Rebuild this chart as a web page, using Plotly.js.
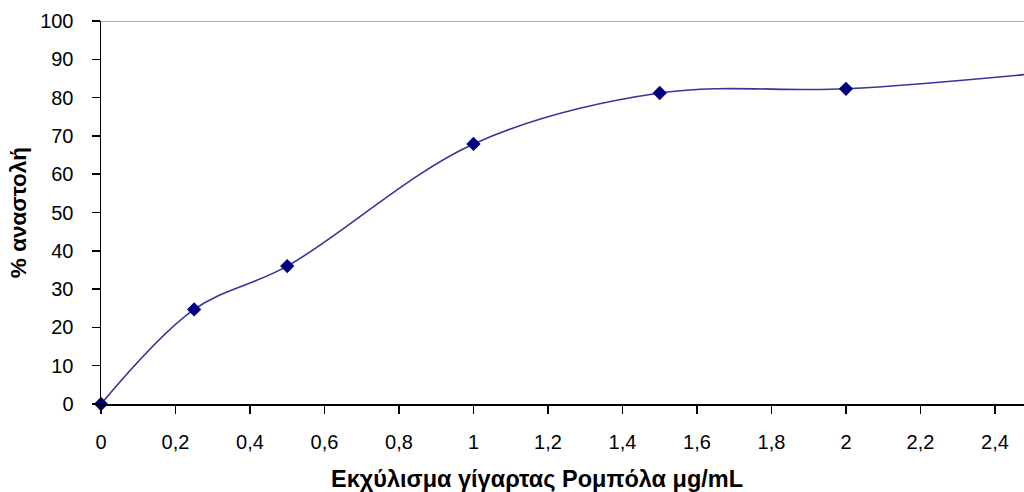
<!DOCTYPE html>
<html>
<head>
<meta charset="utf-8">
<script src="https://cdn.plot.ly/plotly-3.0.1.min.js"></script>
<style>html,body{margin:0;padding:0;background:#fff;}#chart{width:1024px;height:492px;}</style>
</head>
<body>
<div id="chart"></div>
<script>
const concentration = [0, 0.25, 0.5, 1, 1.5, 2, 2.5];
const inhibition = [0, 24.7, 36.0, 67.9, 81.2, 82.3, 86.2];
const xTickValues = [0, 0.2, 0.4, 0.6, 0.8, 1, 1.2, 1.4, 1.6, 1.8, 2, 2.2, 2.4];
const xTickLabels = ['0', '0,2', '0,4', '0,6', '0,8', '1', '1,2', '1,4', '1,6', '1,8', '2', '2,2', '2,4'];
const yTickValues = [0, 10, 20, 30, 40, 50, 60, 70, 80, 90, 100];
const xTitle = 'Εκχύλισμα γίγαρτας Ρομπόλα μg/mL';
const yTitle = '% αναστολή';

const fontFamily = 'Arial, "Liberation Sans", sans-serif';

const trace = {
  x: concentration,
  y: inhibition,
  type: 'scatter',
  mode: 'lines+markers',
  line: {shape: 'spline', smoothing: 1, color: '#35359a', width: 1.6},
  marker: {symbol: 'diamond', size: 11, color: '#000080'},
  cliponaxis: false,
  showlegend: false
};

const layout = {
  width: 1024,
  height: 492,
  margin: {l: 101, r: 0, t: 21, b: 88},
  paper_bgcolor: '#ffffff',
  plot_bgcolor: '#ffffff',
  separators: ',.',
  font: {family: fontFamily, color: '#000000', size: 20},
  xaxis: {
    range: [0, 2.478],
    tickvals: xTickValues,
    ticktext: xTickLabels,
    ticks: 'outside',
    ticklen: 8,
    tickwidth: 1.5,
    tickcolor: '#000',
    ticklabelstandoff: 11,
    showline: true,
    linecolor: '#000',
    linewidth: 1.5,
    showgrid: false,
    zeroline: false,
    tickfont: {size: 20, family: fontFamily}
  },
  yaxis: {
    range: [0, 100],
    tickvals: yTickValues,
    ticks: 'outside',
    ticklen: 8,
    tickwidth: 1.5,
    tickcolor: '#000',
    ticklabelstandoff: 14,
    showline: true,
    linecolor: '#000',
    linewidth: 1.5,
    showgrid: false,
    zeroline: false,
    tickfont: {size: 20, family: fontFamily},
    title: {text: yTitle, font: {size: 22.5, family: fontFamily, weight: 'bold'}, standoff: 7}
  },
  annotations: [{
    text: xTitle, xref: 'paper', yref: 'paper', x: 0.4724, y: -0.195,
    xanchor: 'center', yanchor: 'middle', showarrow: false,
    font: {size: 23.5, family: fontFamily, weight: 'bold', color: '#000'}
  }],
  shapes: [{
    type: 'line', xref: 'paper', yref: 'y', x0: 0, x1: 1, y0: 100, y1: 100,
    line: {color: '#999999', width: 1.5}, layer: 'below'
  }]
};

Plotly.newPlot('chart', [trace], layout, {displayModeBar: false, staticPlot: true});
</script>
</body>
</html>
